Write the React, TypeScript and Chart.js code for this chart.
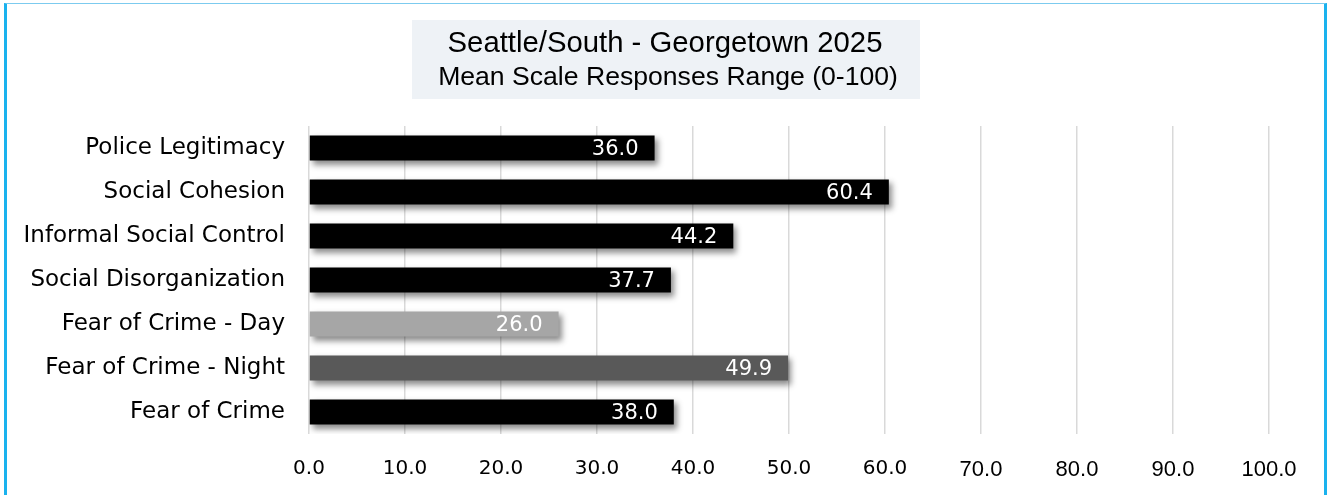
import React, { useEffect, useRef } from "react";
import { Chart, registerables } from "chart.js";

Chart.register(...registerables);

const titleLines = ["Seattle/South - Georgetown 2025", "Mean Scale Responses Range (0-100)"];
const categories = [
  "Police Legitimacy",
  "Social Cohesion",
  "Informal Social Control",
  "Social Disorganization",
  "Fear of Crime - Day",
  "Fear of Crime - Night",
  "Fear of Crime",
];
const values = [36.0, 60.4, 44.2, 37.7, 26.0, 49.9, 38.0];
const barColors = ["#000000", "#000000", "#000000", "#000000", "#a6a6a6", "#595959", "#000000"];
const xTickValues = [0, 10, 20, 30, 40, 50, 60, 70, 80, 90, 100];

const GOTHIC = "'DejaVu Sans', sans-serif";
const ARIAL = "'Liberation Sans', Arial, sans-serif";

export default function App() {
  const ref = useRef<HTMLCanvasElement | null>(null);

  useEffect(() => {
    if (!ref.current) return;

    const shadowPlugin = {
      id: "barShadow",
      beforeDatasetDraw(chart: any) {
        const ctx = chart.ctx;
        ctx.save();
        ctx.shadowColor = "rgba(0,0,0,0.45)";
        ctx.shadowBlur = 6;
        ctx.shadowOffsetX = 3;
        ctx.shadowOffsetY = 4;
      },
      afterDatasetDraw(chart: any) {
        chart.ctx.restore();
      },
    };

    const labelPlugin = {
      id: "valueLabels",
      afterDatasetsDraw(chart: any) {
        const ctx = chart.ctx;
        const meta = chart.getDatasetMeta(0);
        ctx.save();
        ctx.fillStyle = "#ffffff";
        ctx.font = `21px ${GOTHIC}`;
        ctx.textAlign = "right";
        ctx.textBaseline = "middle";
        meta.data.forEach((bar: any, i: number) => {
          ctx.fillText(values[i].toFixed(1), bar.x - 16, bar.y + 2);
        });
        ctx.restore();
      },
    };

    const titlePlugin = {
      id: "boxTitle",
      afterDraw(chart: any) {
        const ctx = chart.ctx;
        ctx.save();
        ctx.fillStyle = "#eef2f6";
        ctx.fillRect(412, 20, 508, 79);
        ctx.fillStyle = "#000000";
        ctx.textAlign = "center";
        ctx.textBaseline = "middle";
        ctx.font = `29.3px ${ARIAL}`;
        ctx.fillText(titleLines[0], 665, 44);
        ctx.font = `26.6px ${ARIAL}`;
        ctx.fillText(titleLines[1], 668, 78);
        ctx.restore();
      },
    };

    const chart = new Chart(ref.current, {
      type: "bar",
      data: {
        labels: categories,
        datasets: [
          {
            data: values,
            backgroundColor: barColors,
            borderWidth: 0,
            barPercentage: 0.57,
            categoryPercentage: 1,
          },
        ],
      },
      options: {
        indexAxis: "y",
        responsive: false,
        animation: false,
        layout: { padding: { top: 126, right: 58, left: 0, bottom: 0 } },
        plugins: {
          legend: { display: false },
          tooltip: { enabled: false },
          title: { display: false },
        },
        scales: {
          x: {
            min: 0,
            max: 100,
            afterBuildTicks(scale: any) {
              scale.ticks = xTickValues.map((v) => ({ value: v }));
            },
            afterFit(scale: any) {
              scale.height = 61;
            },
            grid: { color: "#d9d9d9", lineWidth: 1.5, drawTicks: false },
            border: { display: false },
            ticks: {
              padding: 23,
              color: "#000000",
              callback: (v: any) => Number(v).toFixed(1),
              font: (ctx: any) =>
                ctx.index <= 6
                  ? { family: GOTHIC, size: 20 }
                  : { family: ARIAL, size: 22 },
            },
          },
          y: {
            afterFit(scale: any) {
              scale.width = 309;
            },
            grid: { display: false, drawTicks: false },
            border: { display: false },
            ticks: {
              padding: 24,
              color: "#000000",
              font: { family: GOTHIC, size: 23 },
            },
          },
        },
      },
      plugins: [shadowPlugin, labelPlugin, titlePlugin],
    });

    return () => chart.destroy();
  }, []);

  return (
    <div style={{ position: "fixed", left: 0, top: 0, width: 1327, height: 495, background: "#ffffff" }}>
      <canvas ref={ref} width={1327} height={495} style={{ position: "absolute", left: 0, top: 0 }} />
      <div
        style={{
          position: "absolute",
          left: 4,
          top: 3,
          width: 1323,
          height: 520,
          boxSizing: "border-box",
          borderTop: "1.5px solid #7ccbef",
          borderLeft: "3px solid #1ab2ee",
          borderRight: "3px solid #1ab2ee",
          pointerEvents: "none",
        }}
      />
    </div>
  );
}
